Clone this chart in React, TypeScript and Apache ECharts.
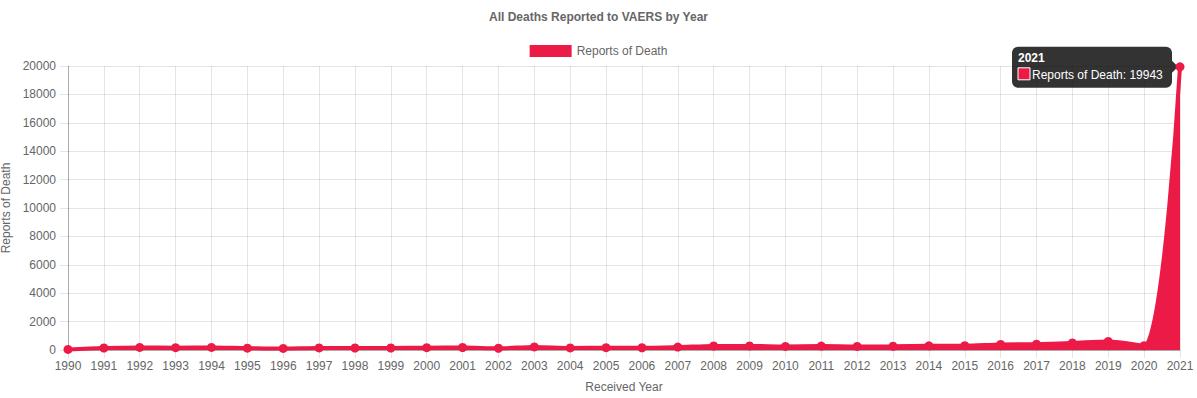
import React, { useEffect, useRef } from "react";
import * as echarts from "echarts";

const years = ["1990","1991","1992","1993","1994","1995","1996","1997","1998","1999","2000","2001","2002","2003","2004","2005","2006","2007","2008","2009","2010","2011","2012","2013","2014","2015","2016","2017","2018","2019","2020","2021"];
const deaths = [37,141,182,166,178,127,108,143,140,141,166,175,122,219,149,161,159,205,283,290,251,277,250,264,294,302,392,412,496,605,300,19943];
const yTicks = { min: 0, max: 20000, interval: 2000 };

const RED = "#ec1a47";
const GREY = "#666";
const FONT = "Liberation Sans, Arial, Helvetica, sans-serif";

export default function App() {
  const ref = useRef<HTMLDivElement>(null);
  useEffect(() => {
    const chart = echarts.init(ref.current!, null, { renderer: "svg" });
    chart.setOption({
      animation: false,
      textStyle: { fontFamily: FONT },
      title: {
        text: "All Deaths Reported to VAERS by Year",
        left: "center",
        top: 6,
        textStyle: { fontSize: 12, fontWeight: "bold", color: GREY, fontFamily: FONT },
      },
      legend: {
        top: 40,
        left: "center",
        icon: "rect",
        itemWidth: 42,
        itemHeight: 12,
        itemGap: 6,
        textStyle: { fontSize: 12, color: GREY, fontFamily: FONT },
        data: ["Reports of Death"],
      },
      grid: { left: 68, right: 17, top: 66, bottom: 48, containLabel: false, outerBoundsMode: "none" },
      xAxis: {
        type: "category",
        data: years,
        boundaryGap: false,
        name: "Received Year",
        nameLocation: "middle",
        nameGap: 31,
        nameTextStyle: { fontSize: 12, color: GREY, fontFamily: FONT },
        axisLine: { lineStyle: { color: "rgba(0,0,0,0.25)" } },
        axisTick: { show: true, length: 8, lineStyle: { color: "rgba(0,0,0,0.1)" } },
        axisLabel: { color: GREY, fontSize: 12, margin: 10, interval: 0, fontFamily: FONT },
        splitLine: { show: true, lineStyle: { color: "rgba(0,0,0,0.1)" } },
      },
      yAxis: {
        type: "value",
        min: yTicks.min,
        max: yTicks.max,
        interval: yTicks.interval,
        name: "Reports of Death",
        nameLocation: "middle",
        nameGap: 54,
        nameTextStyle: { fontSize: 12, color: GREY, fontFamily: FONT },
        axisLine: { show: true, lineStyle: { color: "rgba(0,0,0,0.25)" } },
        axisTick: { show: true, length: 8, lineStyle: { color: "rgba(0,0,0,0.1)" } },
        axisLabel: { color: GREY, fontSize: 12, margin: 12, fontFamily: FONT, formatter: (v: number) => String(v) },
        splitLine: { show: true, lineStyle: { color: "rgba(0,0,0,0.1)" } },
      },
      series: [
        {
          name: "Reports of Death",
          type: "line",
          data: deaths,
          smooth: 0.3,
          symbol: "circle",
          symbolSize: 9,
          itemStyle: { color: RED },
          lineStyle: { color: RED, width: 4 },
          areaStyle: { color: RED, opacity: 1 },
        },
      ],
    });

    const last = deaths.length - 1;
    const [px, py] = chart.convertToPixel({ seriesIndex: 0 }, [years[last], deaths[last]]) as number[];
    const boxW = 160;
    const boxH = 41;
    const bx = px - 8 - boxW;
    const by = py - 20;
    chart.setOption({
      graphic: [
        {
          type: "group",
          z: 100,
          children: [
            { type: "rect", shape: { x: bx, y: by, width: boxW, height: boxH, r: 6 }, style: { fill: "rgba(0,0,0,0.8)" } },
            { type: "polygon", shape: { points: [[bx + boxW, py - 6], [px - 2, py], [bx + boxW, py + 6]] }, style: { fill: "rgba(0,0,0,0.8)" } },
            { type: "text", x: bx + 6, y: by + 11, style: { text: years[last], fill: "#fff", font: `bold 12px ${FONT}`, verticalAlign: "middle" } },
            { type: "rect", shape: { x: bx + 6, y: by + 21, width: 12, height: 12 }, style: { fill: RED, stroke: "#fff", lineWidth: 1 } },
            { type: "text", x: bx + 20, y: by + 28, style: { text: `Reports of Death: ${deaths[last]}`, fill: "#fff", font: `12px ${FONT}`, verticalAlign: "middle" } },
          ],
        },
      ],
    });
    return () => chart.dispose();
  }, []);
  return <div ref={ref} style={{ position: "absolute", left: 0, top: 0, width: 1197, height: 398 }} />;
}
